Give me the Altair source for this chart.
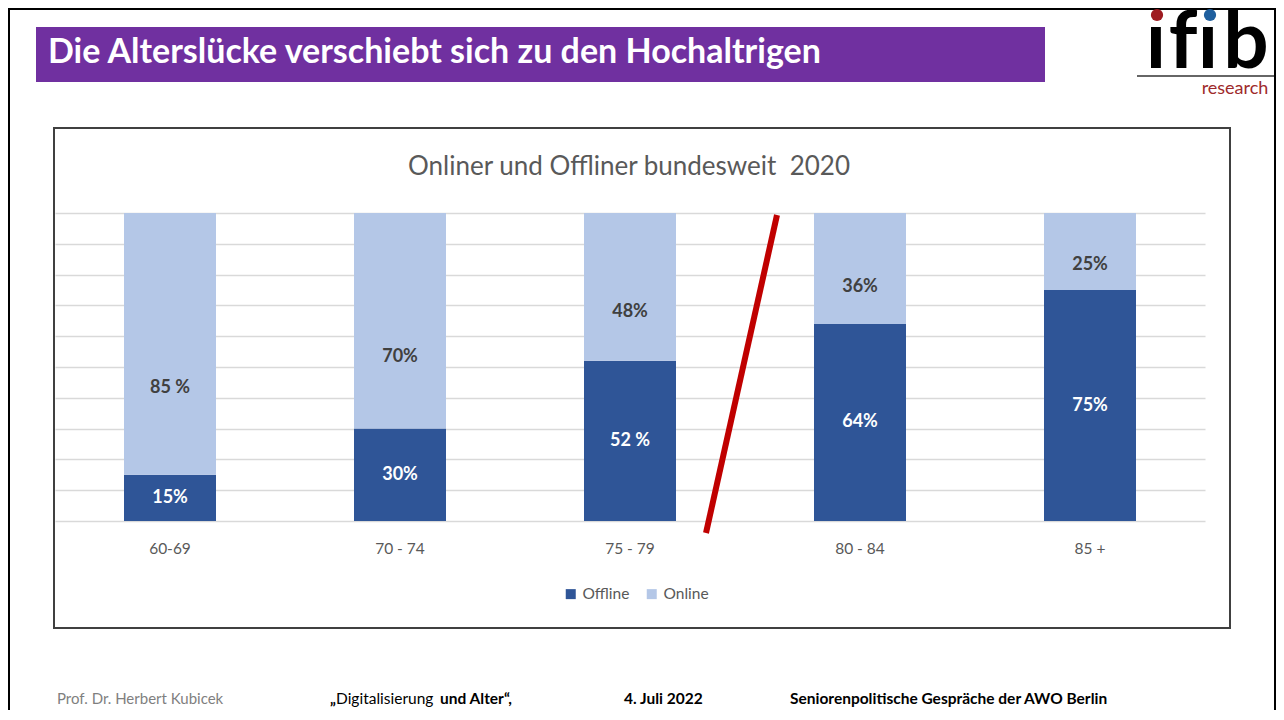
import altair as alt
import pandas as pd

# ---------------- data ----------------
ages = ["60-69", "70 - 74", "75 - 79", "80 - 84", "85 +"]
offline = [15, 30, 52, 64, 75]
online = [85, 70, 48, 36, 25]
offline_labels = ["15%", "30%", "52 %", "64%", "75%"]
online_labels = ["85 %", "70%", "48%", "36%", "25%"]
series_names = ["Offline", "Online"]
series_colors = ["#2F5597", "#B4C7E7"]

rows = []
for i, a in enumerate(ages):
    rows.append({"age": a, "series": "Offline", "value": offline[i], "label": offline_labels[i], "ord": 0})
    rows.append({"age": a, "series": "Online", "value": online[i], "label": online_labels[i], "ord": 1})
df = pd.DataFrame(rows)

FONT = "Lato"
OX, OY = 55, 213  # plot-area origin on the page


def X(a):
    return a - OX


def Y(a):
    return a - OY


one = alt.Data(values=[{"k": 1}])

# ---------------- main chart ----------------
x_axis = alt.Axis(title=None, labelAngle=0, ticks=False, domain=False, grid=False,
                  labelColor="#595959", labelFontSize=15.5, labelFont=FONT, labelPadding=20)
y_axis = alt.Axis(title=None, labels=False, ticks=False, domain=False,
                  values=list(range(0, 101, 10)), tickCount=11,
                  gridColor="#D9D9D9", gridWidth=1.5)
x_scale = alt.Scale(paddingInner=0.6, paddingOuter=0.3)
y_scale = alt.Scale(domain=[0, 100], nice=False)

bars = alt.Chart(df).mark_bar().encode(
    x=alt.X("age:N", sort=ages, scale=x_scale, axis=x_axis),
    y=alt.Y("value:Q", stack="zero", scale=y_scale, axis=y_axis),
    color=alt.Color("series:N",
                    scale=alt.Scale(domain=series_names, range=series_colors),
                    legend=alt.Legend(title=None, orient="none", legendX=X(563), legendY=Y(586),
                                      direction="horizontal", symbolType="square", symbolSize=100,
                                      symbolStrokeWidth=0, labelFontSize=15.5, labelColor="#595959",
                                      labelFont=FONT, columnPadding=14, padding=0)),
    order=alt.Order("ord:Q"),
)

labels = alt.Chart(df).transform_stack(
    stack="value", groupby=["age"], as_=["y0", "y1"], sort=[alt.SortField("ord")]
).transform_calculate(
    ly="datum.y0 + (datum.series == 'Offline' ? 0.5 : 0.33) * datum.value"
).mark_text(fontSize=18, fontWeight="bold", font=FONT, baseline="middle").encode(
    x=alt.X("age:N", sort=ages, scale=x_scale, axis=x_axis),
    y=alt.Y("ly:Q", scale=y_scale, axis=y_axis),
    text="label:N",
    color=alt.condition(alt.datum.series == "Offline", alt.value("white"), alt.value("#404040")),
)


# ---------------- decorations ----------------
def txt(t, x, y, size, color, weight="normal", align="left", baseline="middle"):
    return alt.Chart(one).mark_text(text=t, fontSize=size, color=color, fontWeight=weight,
                                    align=align, baseline=baseline, font=FONT).encode(
        x=alt.value(x), y=alt.value(y))


def hrule(x1, x2, y, color, w):
    return alt.Chart(one).mark_rule(color=color, strokeWidth=w).encode(
        x=alt.value(x1), x2=alt.value(x2), y=alt.value(y))


def vrule(x, y1, y2, color, w):
    return alt.Chart(one).mark_rule(color=color, strokeWidth=w).encode(
        x=alt.value(x), y=alt.value(y1), y2=alt.value(y2))


deco = []
# slide border
deco.append(vrule(X(9), Y(8), Y(720), "#000000", 2))
deco.append(hrule(X(8), X(1276), Y(9), "#000000", 2))
deco.append(vrule(X(1275), Y(8), Y(720), "#000000", 2))

# title bar
deco.append(alt.Chart(one).mark_rect(color="#7030A0").encode(
    x=alt.value(X(36)), x2=alt.value(X(1045)), y=alt.value(Y(27)), y2=alt.value(Y(82))))
deco.append(txt("Die Alterslücke verschiebt sich zu den Hochaltrigen", X(48), Y(53), 34,
                "#FFFFFF", weight="bold"))

# logo
for ch, cx in [("ı", 1156), ("f", 1183), ("ı", 1208), ("b", 1246)]:
    deco.append(txt(ch, X(cx), Y(68), 80, "#000000", weight="bold", align="center",
                    baseline="alphabetic"))
deco.append(alt.Chart(one).mark_circle(color="#9E1B20", opacity=1, size=150).encode(
    x=alt.value(X(1157)), y=alt.value(Y(15))))
deco.append(alt.Chart(one).mark_circle(color="#1F5F9E", opacity=1, size=150).encode(
    x=alt.value(X(1210)), y=alt.value(Y(15))))
deco.append(hrule(X(1137), X(1274), Y(76), "#333333", 1.5))
deco.append(txt("research", X(1235), Y(89), 18, "#9E2A2B", align="center"))

# chart frame
deco.append(alt.Chart(one).mark_rect(fillOpacity=0, stroke="#404040", strokeWidth=2).encode(
    x=alt.value(X(54)), x2=alt.value(X(1230)), y=alt.value(Y(128)), y2=alt.value(Y(628))))
deco.append(txt("Onliner und Offliner bundesweit\u00a0 2020", X(629), Y(167), 26, "#595959",
                align="center"))

# red slash
deco.append(alt.Chart(one).mark_rule(color="#C00000", strokeWidth=6).encode(
    x=alt.value(X(777)), y=alt.value(Y(215)), x2=alt.value(X(706)), y2=alt.value(Y(533))))

# footer
FY = Y(699)
deco.append(txt("Prof. Dr. Herbert Kubicek", X(57), FY, 15, "#7F7F7F"))
deco.append(txt("\u201e", X(330), FY, 15.5, "#000000", weight="bold"))
deco.append(txt("Digitalisierung", X(336), FY, 15.5, "#000000"))
deco.append(txt("und Alter\u201c,", X(440), FY, 15.5, "#000000", weight="bold"))
deco.append(txt("4. Juli 2022", X(624), FY, 15.5, "#000000", weight="bold"))
deco.append(txt("Seniorenpolitische Gespräche der AWO Berlin", X(790), FY, 15.5, "#000000",
                weight="bold"))

chart = alt.layer(bars, labels, *deco).properties(
    width=1150,
    height=308,
    padding={"left": 47, "top": 205, "right": 71, "bottom": 189},
    autosize=alt.AutoSizeParams(type="none"),
    background="white",
).configure_view(stroke=None)

chart.save("out.html", embed_options={"renderer": "svg", "actions": False})
